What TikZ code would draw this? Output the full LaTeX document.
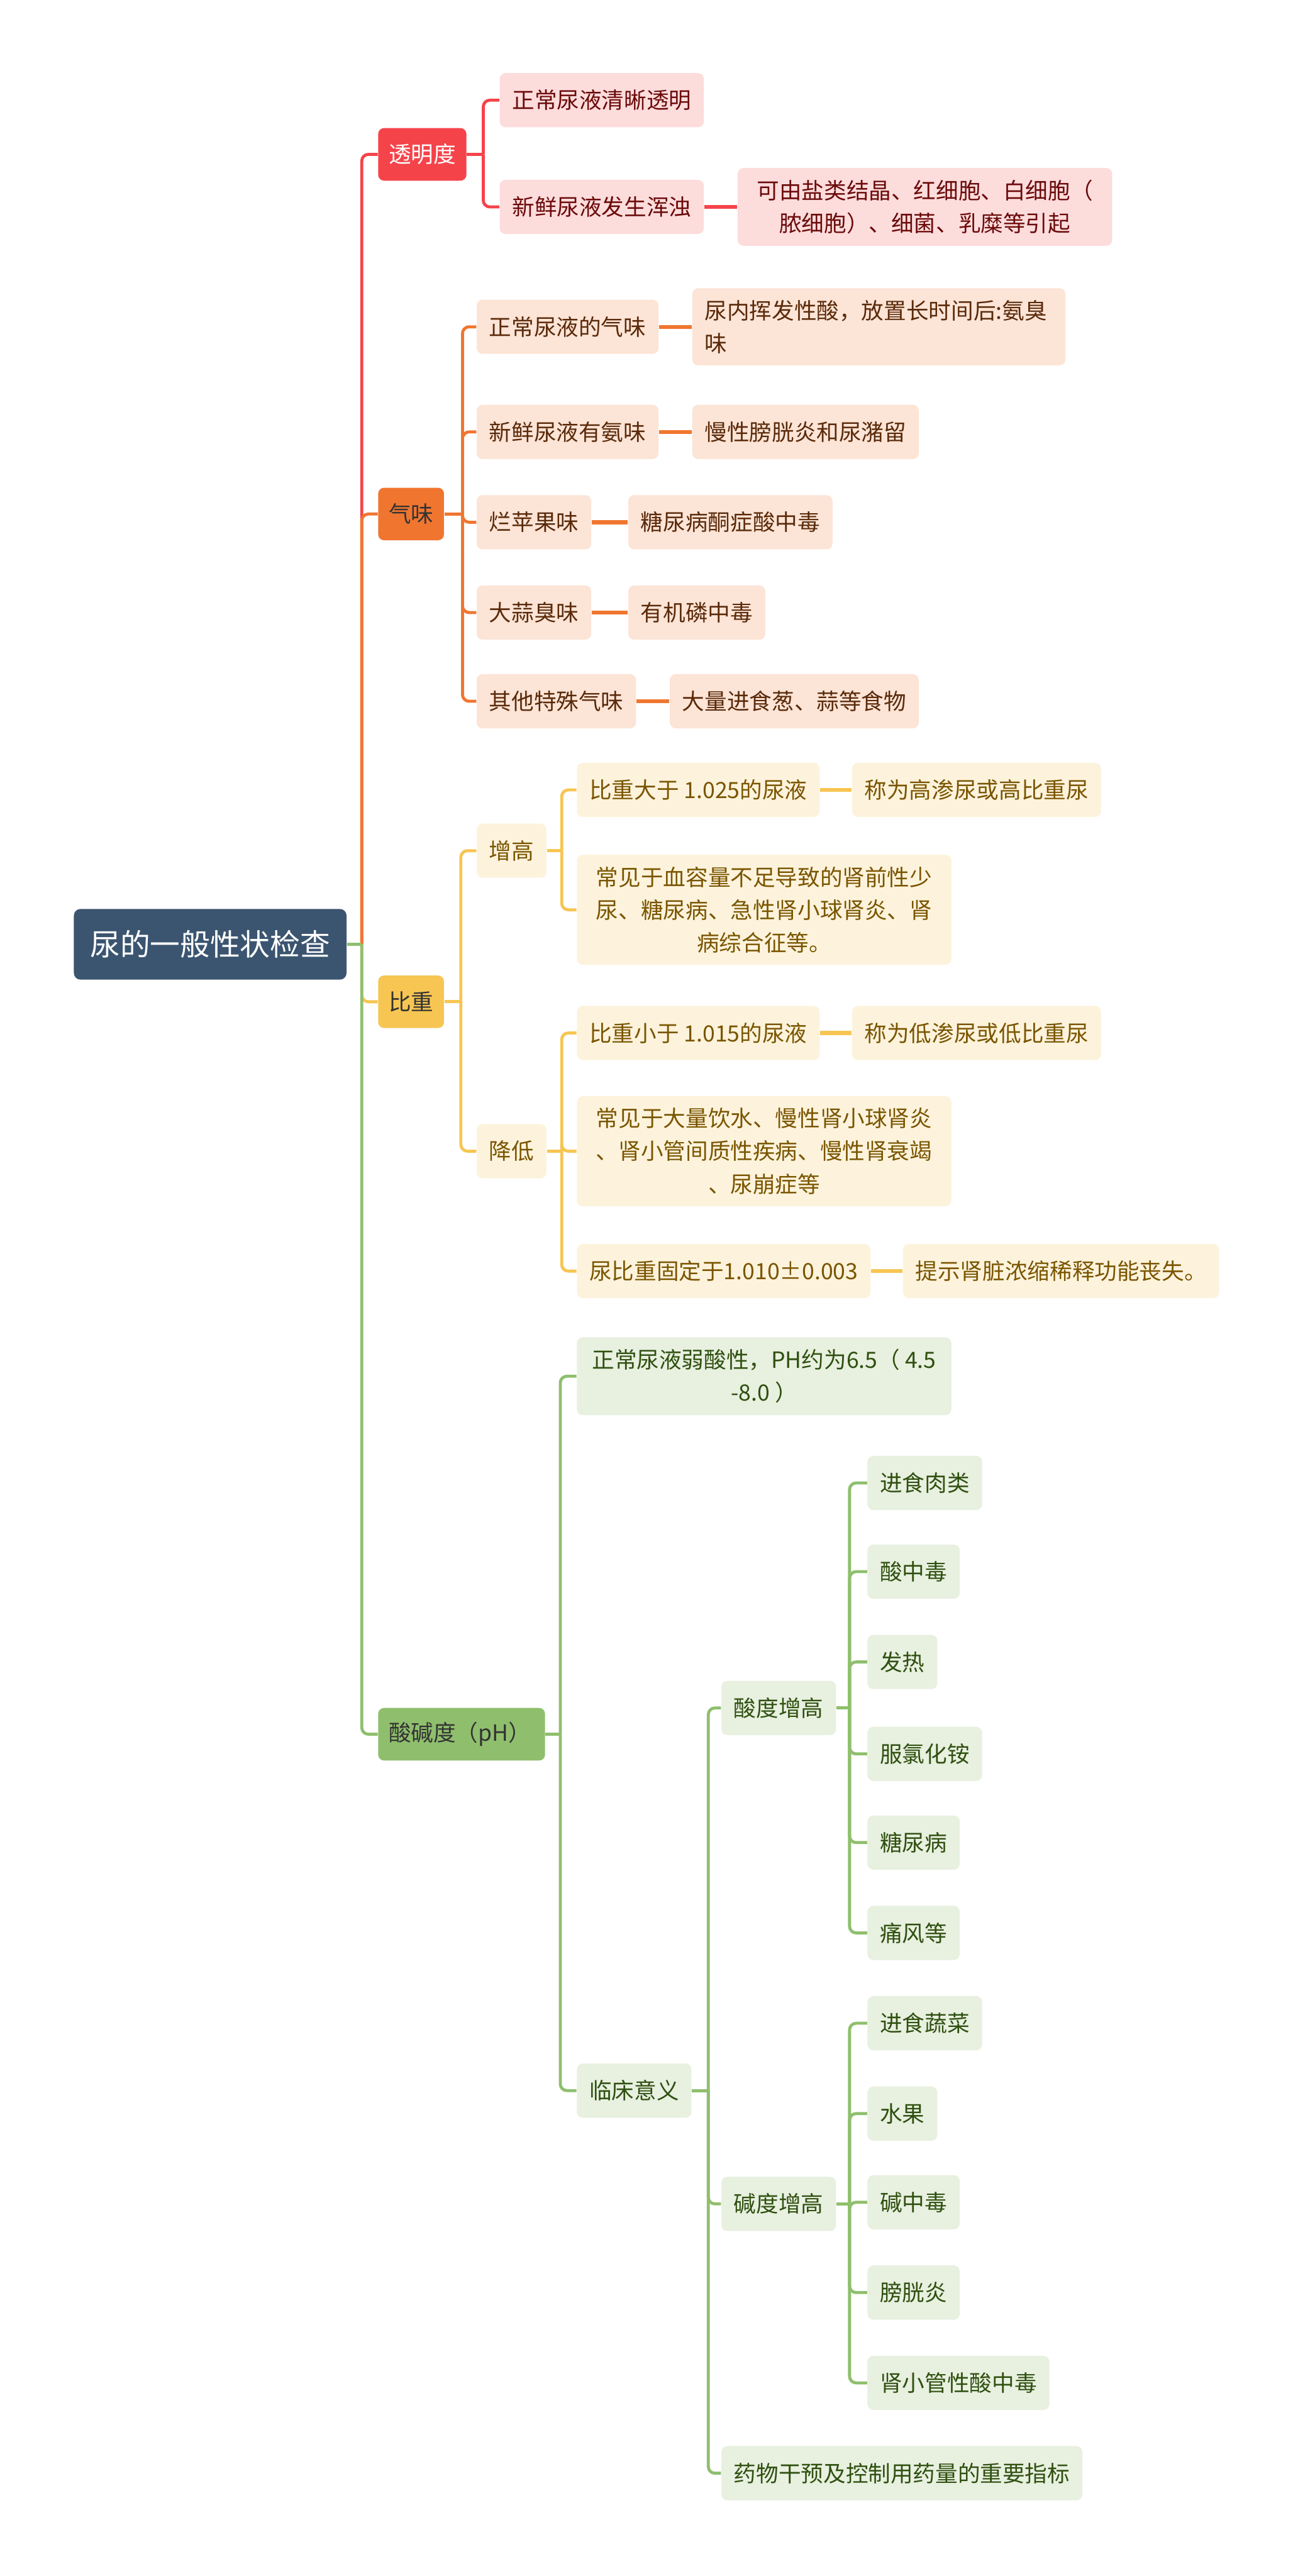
\documentclass[tikz,border=0pt]{standalone}
\usepackage{fontspec}
\setmainfont{Noto Sans CJK SC}
\usetikzlibrary{positioning, calc}

\definecolor{rootblue}{HTML}{3B5570}
\definecolor{cRed}{HTML}{F5434A}
\definecolor{cOrange}{HTML}{F07630}
\definecolor{cYellow}{HTML}{F7C552}
\definecolor{cGreen}{HTML}{8FBF6D}
\definecolor{fRed}{HTML}{FDDCDC}
\definecolor{fOrange}{HTML}{FCE4D6}
\definecolor{fYellow}{HTML}{FDF3DC}
\definecolor{fGreen}{HTML}{E8F0E0}
\definecolor{tRed}{HTML}{6B0A0A}
\definecolor{tOrange}{HTML}{5A2A0A}
\definecolor{tYellow}{HTML}{7A5500}
\definecolor{tGreen}{HTML}{2F5010}

\begin{document}
\begin{tikzpicture}[
  x=0.025cm, y=-0.025cm,
  every node/.style={font=\fontsize{9.7}{14.2}\selectfont, align=center},
  root/.style={fill=rootblue, text=white, rounded corners=1mm, minimum width=4.15cm,
               minimum height=1.075cm, font=\fontsize{13}{16}\selectfont},
  topic/.style={fill=#1, rounded corners=0.9mm, minimum height=0.8cm, inner xsep=0.16cm,
                text=black!80, anchor=west},
  sub/.style={rounded corners=0.9mm, minimum height=0.825cm, inner xsep=0.19cm, inner ysep=0.18cm},
  redleaf/.style={sub, fill=fRed, text=tRed},
  orangeleaf/.style={sub, fill=fOrange, text=tOrange},
  yellowleaf/.style={sub, fill=fYellow, text=tYellow},
  greenleaf/.style={sub, fill=fGreen, text=tGreen},
  link/.style={line width=1.3pt, rounded corners=1mm},
  leaflink/.style={line width=1.7pt}
]

\fill[white] (0,0) rectangle (787,1568.6);
\useasboundingbox (0,0) rectangle (787,1568.6);

% Root and main topics
\node[root] (root) at (128,575) {尿的一般性状检查};
\node[topic=cRed, text=white] (tmd) at (230,94) {透明度};
\node[topic=cOrange] (qw) at (230,313) {气味};
\node[topic=cYellow] (bz) at (230,610) {比重};
\node[topic=cGreen, text width=2.22cm, align=left] (ph) at (230,1056) {酸碱度（pH）};

% 透明度
\node[redleaf, anchor=west] (tmd1) at (304,61) {正常尿液清晰透明};
\node[redleaf, anchor=west] (tmd2) at (304,126) {新鲜尿液发生浑浊};
\node[redleaf, right=0.5cm of tmd2, minimum width=5.7cm] (tmd2a) {可由盐类结晶、红细胞、白细胞（\\脓细胞）、细菌、乳糜等引起};

% 气味
\node[orangeleaf, anchor=west] (qw1) at (290,199) {正常尿液的气味};
\node[orangeleaf, right=0.5cm of qw1, text width=5.3cm, align=left] (qw1a) {尿内挥发性酸，放置长时间后:氨臭\\味};
\node[orangeleaf, anchor=west] (qw2) at (290,263) {新鲜尿液有氨味};
\node[orangeleaf, right=0.5cm of qw2] (qw2a) {慢性膀胱炎和尿潴留};
\node[orangeleaf, anchor=west] (qw3) at (290,318) {烂苹果味};
\node[orangeleaf, right=0.55cm of qw3] (qw3a) {糖尿病酮症酸中毒};
\node[orangeleaf, anchor=west] (qw4) at (290,373) {大蒜臭味};
\node[orangeleaf, right=0.55cm of qw4] (qw4a) {有机磷中毒};
\node[orangeleaf, anchor=west] (qw5) at (290,427) {其他特殊气味};
\node[orangeleaf, right=0.5cm of qw5] (qw5a) {大量进食葱、蒜等食物};

% 比重
\node[yellowleaf, anchor=west] (bz1) at (290,518) {增高};
\node[yellowleaf, anchor=west] (bz2) at (290,701) {降低};
\node[yellowleaf, anchor=west] (bz11) at (351,481) {比重大于 1.025的尿液};
\node[yellowleaf, right=0.48cm of bz11] (bz11a) {称为高渗尿或高比重尿};
\node[yellowleaf, anchor=west, minimum width=5.7cm] (bz12) at (351,554) {常见于血容量不足导致的肾前性少\\尿、糖尿病、急性肾小球肾炎、肾\\病综合征等。};
\node[yellowleaf, anchor=west] (bz21) at (351,629) {比重小于 1.015的尿液};
\node[yellowleaf, right=0.48cm of bz21] (bz21a) {称为低渗尿或低比重尿};
\node[yellowleaf, anchor=west, minimum width=5.7cm] (bz22) at (351,701) {常见于大量饮水、慢性肾小球肾炎\\、肾小管间质性疾病、慢性肾衰竭\\、尿崩症等};
\node[yellowleaf, anchor=west] (bz23) at (351,774) {尿比重固定于1.010±0.003};
\node[yellowleaf, right=0.48cm of bz23] (bz23a) {提示肾脏浓缩稀释功能丧失。};

% 酸碱度
\node[greenleaf, anchor=west, minimum width=5.7cm] (ph1) at (351,838) {正常尿液弱酸性，PH约为6.5（ 4.5\\-8.0 ）};
\node[greenleaf, anchor=west] (ph2) at (351,1273) {临床意义};
\node[greenleaf, anchor=west] (ph21) at (439,1040) {酸度增高};
\node[greenleaf, anchor=west] (ph22) at (439,1342) {碱度增高};
\node[greenleaf, anchor=west] (ph23) at (439,1506) {药物干预及控制用药量的重要指标};
\foreach \y/\t [count=\i] in {903/进食肉类, 957/酸中毒, 1012/发热, 1068/服氯化铵, 1122/糖尿病, 1177/痛风等}
  \node[greenleaf, anchor=west] (a\i) at (528,\y) {\t};
\foreach \y/\t [count=\i] in {1232/进食蔬菜, 1287/水果, 1341/碱中毒, 1396/膀胱炎, 1451/肾小管性酸中毒}
  \node[greenleaf, anchor=west] (k\i) at (528,\y) {\t};

% Bus points
\coordinate (root-b) at ($(root.east)+(9,0)$);
\coordinate (tmd-b) at ($(tmd.east)+(10,0)$);
\coordinate (qw-b) at ($(qw.east)+(11,0)$);
\coordinate (bz-b) at ($(bz.east)+(10,0)$);
\coordinate (bz1-b) at ($(bz1.east)+(9,0)$);
\coordinate (bz2-b) at ($(bz2.east)+(9,0)$);
\coordinate (ph-b) at ($(ph.east)+(9,0)$);
\coordinate (ph2-b) at ($(ph2.east)+(10,0)$);
\coordinate (ph21-b) at ($(ph21.east)+(8,0)$);
\coordinate (ph22-b) at ($(ph22.east)+(8,0)$);

% Red branch
\draw[link, cRed] (root-b) |- (tmd.west);
\draw[link, cRed] (tmd.east) -- (tmd-b);
\foreach \c in {tmd1, tmd2} \draw[link, cRed] (tmd-b) |- (\c.west);
\draw[leaflink, cRed] (tmd2) -- (tmd2a);

% Orange branch
\draw[link, cOrange] (root-b) |- (qw.west);
\draw[link, cOrange] (qw.east) -- (qw-b);
\foreach \c in {qw1, qw2, qw3, qw4, qw5} {
  \draw[link, cOrange] (qw-b) |- (\c.west);
  \draw[leaflink, cOrange] (\c) -- (\c a);
}

% Yellow branch
\draw[link, cYellow] (root-b) |- (bz.west);
\draw[link, cYellow] (bz.east) -- (bz-b);
\foreach \c in {bz1, bz2} \draw[link, cYellow] (bz-b) |- (\c.west);
\draw[link, cYellow] (bz1.east) -- (bz1-b);
\foreach \c in {bz11, bz12} \draw[link, cYellow] (bz1-b) |- (\c.west);
\draw[link, cYellow] (bz2.east) -- (bz2-b);
\foreach \c in {bz21, bz22, bz23} \draw[link, cYellow] (bz2-b) |- (\c.west);
\foreach \c in {bz11, bz21, bz23} \draw[leaflink, cYellow] (\c) -- (\c a);

% Green branch
\draw[link, cGreen] (root-b) |- (ph.west);
\draw[link, cGreen] (root.east) -- (root-b);
\draw[link, cGreen] (ph.east) -- (ph-b);
\foreach \c in {ph1, ph2} \draw[link, cGreen] (ph-b) |- (\c.west);
\draw[link, cGreen] (ph2.east) -- (ph2-b);
\foreach \c in {ph21, ph22, ph23} \draw[link, cGreen] (ph2-b) |- (\c.west);
\draw[link, cGreen] (ph21.east) -- (ph21-b);
\foreach \i in {1,...,6} \draw[link, cGreen] (ph21-b) |- (a\i.west);
\draw[link, cGreen] (ph22.east) -- (ph22-b);
\foreach \i in {1,...,5} \draw[link, cGreen] (ph22-b) |- (k\i.west);

\end{tikzpicture}
\end{document}
